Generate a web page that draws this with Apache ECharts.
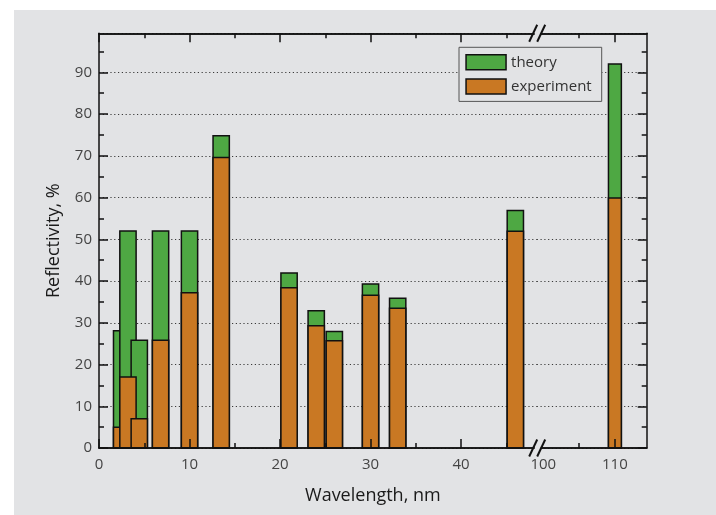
<!DOCTYPE html>
<html>
<head>
<meta charset="utf-8">
<script src="https://cdn.jsdelivr.net/npm/echarts@6/dist/echarts.min.js"></script>
<style>
  html, body { margin: 0; padding: 0; background: #ffffff; width: 716px; height: 515px; overflow: hidden; }
  #chart { position: absolute; left: 14px; top: 10px; width: 702px; height: 505px; }
</style>
</head>
<body>
<div id="chart"></div>
<script>
// Reflectivity of multilayer mirrors at several wavelengths (nm)
const wavelengths = [2.5, 3.2, 4.45, 6.8, 10, 13.5, 21, 24, 26, 30, 33, 46, 110];
const theory      = [28.1, 52, 25.8, 52, 52, 74.8, 41.9, 32.9, 27.9, 39.3, 35.9, 56.9, 92];
const experiment  = [5, 17, 7, 25.8, 37.2, 69.6, 38.4, 29.3, 25.7, 36.6, 33.5, 51.9, 59.9];

// broken wavelength axis: two ranges
const lowRange  = [0, 48.36];
const highRange = [99.08, 114.44];
const lowMajorTicks  = [0, 10, 20, 30, 40];
const lowMinorTicks  = [5, 15, 25, 35, 45];
const highMajorTicks = [110];
const highLabels     = [100, 110];
const highMinorTicks = [105];

const yMax = 99.35;
const yMajorTicks = [0, 10, 20, 30, 40, 50, 60, 70, 80, 90];
const yMinorTicks = [5, 15, 25, 35, 45, 55, 65, 75, 85, 95];

const BG = '#e2e3e5';
const INK = '#111111';
const GREEN = '#4ea843';
const ORANGE = '#c97823';
const FONT = '"Open Sans", "DejaVu Sans", sans-serif';
const BAR_HALF = 0.9; // bar half-width in nm

const chart = echarts.init(document.getElementById('chart'), null, { renderer: 'canvas' });

const gridTop = 23.3, gridHeight = 414.7;
const grids = [
  { left: 85, top: gridTop, width: 437.7, height: gridHeight },
  { left: 522.7, top: gridTop, width: 110, height: gridHeight }
];

function tickStyle() { return { color: INK, width: 1.5 }; }

function xAxesFor(gi, range, major, minor, labels) {
  const base = {
    type: 'value', gridIndex: gi, min: range[0], max: range[1], z: 10,
    splitLine: { show: false },
    axisLine: { show: true, onZero: false, lineStyle: { color: INK, width: 1.5 } }
  };
  return [
    Object.assign({}, base, {
      position: 'bottom',
      axisTick: { show: true, inside: true, length: 9, customValues: major, lineStyle: tickStyle() },
      axisLabel: { show: true, customValues: labels, margin: 9, color: '#444', fontSize: 15, fontFamily: FONT }
    }),
    Object.assign({}, base, {
      position: 'bottom',
      axisTick: { show: true, inside: true, length: 5, customValues: minor, lineStyle: tickStyle() },
      axisLabel: { show: false }
    }),
    Object.assign({}, base, {
      position: 'top',
      axisTick: { show: true, inside: true, length: 9, customValues: major, lineStyle: tickStyle() },
      axisLabel: { show: false }
    }),
    Object.assign({}, base, {
      position: 'top',
      axisTick: { show: true, inside: true, length: 5, customValues: minor, lineStyle: tickStyle() },
      axisLabel: { show: false }
    })
  ];
}

function yAxesFor(gi, side, withLabels) {
  const base = { type: 'value', gridIndex: gi, min: 0, max: yMax, position: side };
  return [
    // dotted grid lines behind the bars
    Object.assign({}, base, {
      interval: 10, z: 0,
      axisLine: { show: false }, axisTick: { show: false }, axisLabel: { show: false },
      splitLine: { show: true, lineStyle: { color: '#3a3a3a', width: 1, type: [1.2, 2.6] } }
    }),
    Object.assign({}, base, {
      z: 10, splitLine: { show: false },
      axisLine: { show: true, onZero: false, lineStyle: { color: INK, width: 1.5 } },
      axisTick: { show: true, inside: true, length: 9, customValues: yMajorTicks, lineStyle: tickStyle() },
      axisLabel: withLabels
        ? { show: true, customValues: yMajorTicks, margin: 7, color: '#444', fontSize: 15, fontFamily: FONT }
        : { show: false },
      name: withLabels ? 'Reflectivity, %' : '',
      nameLocation: 'middle', nameGap: 36,
      nameTextStyle: { fontSize: 18, color: '#1a1a1a', fontFamily: FONT }
    }),
    Object.assign({}, base, {
      z: 10, splitLine: { show: false },
      axisLine: { show: false },
      axisTick: { show: true, inside: true, length: 5, customValues: yMinorTicks, lineStyle: tickStyle() },
      axisLabel: { show: false }
    })
  ];
}

function renderBar(params, api) {
  const x = api.value(0), y = api.value(1);
  const p0 = api.coord([x - BAR_HALF, y]);
  const p1 = api.coord([x + BAR_HALF, 0]);
  return {
    type: 'rect',
    shape: { x: p0[0], y: p0[1], width: p1[0] - p0[0], height: p1[1] - p0[1] },
    style: { fill: api.visual('color'), stroke: INK, lineWidth: 1.5 }
  };
}

function pick(values, inHigh) {
  const out = [];
  wavelengths.forEach((w, i) => {
    if ((w > lowRange[1]) === inHigh) out.push([w, values[i]]);
  });
  return out;
}

function barSeries(name, values, gi, color) {
  return {
    type: 'custom', name: name,
    xAxisIndex: gi * 4, yAxisIndex: gi * 3,
    itemStyle: { color: color, borderColor: INK, borderWidth: 1.5 },
    encode: { x: 0, y: 1 },
    data: pick(values, gi === 1),
    renderItem: renderBar,
    z: 2
  };
}

const option = {
  backgroundColor: BG,
  animation: false,
  textStyle: { fontFamily: FONT },
  grid: grids,
  xAxis: [].concat(
    xAxesFor(0, lowRange, lowMajorTicks, lowMinorTicks, lowMajorTicks),
    xAxesFor(1, highRange, highMajorTicks, highMinorTicks, highLabels)
  ),
  yAxis: [].concat(yAxesFor(0, 'left', true), yAxesFor(1, 'right', false)),
  legend: {
    orient: 'vertical', left: 445, top: 37.3,
    itemWidth: 40, itemHeight: 15, itemGap: 7.7,
    padding: [6.7, 10, 6.7, 6.3],
    backgroundColor: BG, borderColor: '#555', borderWidth: 1,
    textStyle: { fontSize: 15, color: '#333', fontFamily: FONT },
    z: 20,
    data: [
      { name: 'theory', icon: 'rect', itemStyle: { color: GREEN, borderColor: INK, borderWidth: 1.5 } },
      { name: 'experiment', icon: 'rect', itemStyle: { color: ORANGE, borderColor: INK, borderWidth: 1.5 } }
    ]
  },
  series: [
    barSeries('theory', theory, 0, GREEN),
    barSeries('theory', theory, 1, GREEN),
    barSeries('experiment', experiment, 0, ORANGE),
    barSeries('experiment', experiment, 1, ORANGE)
  ]
};

chart.setOption(option);

// axis break marks and the shared axis title
const breakX = chart.convertToPixel({ xAxisIndex: 0 }, lowRange[1]);
const topY = chart.convertToPixel({ yAxisIndex: 0 }, yMax);
const botY = chart.convertToPixel({ yAxisIndex: 0 }, 0);
const leftX = chart.convertToPixel({ xAxisIndex: 0 }, lowRange[0]);
const rightX = chart.convertToPixel({ xAxisIndex: 4 }, highRange[1]);

function breakMark(cx, cy) {
  return [
    { type: 'rect', shape: { x: cx - 3, y: cy - 2, width: 6, height: 4 }, style: { fill: BG }, z: 30 },
    { type: 'line', shape: { x1: cx - 8.5, y1: cy + 8.5, x2: cx - 0.5, y2: cy - 8.5 }, style: { stroke: INK, lineWidth: 2 }, z: 31 },
    { type: 'line', shape: { x1: cx - 0.5, y1: cy + 8.5, x2: cx + 7.5, y2: cy - 8.5 }, style: { stroke: INK, lineWidth: 2 }, z: 31 }
  ];
}

chart.setOption({
  graphic: [].concat(
    breakMark(breakX + 1, topY),
    breakMark(breakX + 1, botY),
    [{
      type: 'text', x: (leftX + rightX) / 2, y: botY + 48, z: 30,
      style: { text: 'Wavelength, nm', fontSize: 18, fill: '#1a1a1a', fontFamily: FONT, align: 'center', verticalAlign: 'middle' }
    }]
  )
});
</script>
</body>
</html>
